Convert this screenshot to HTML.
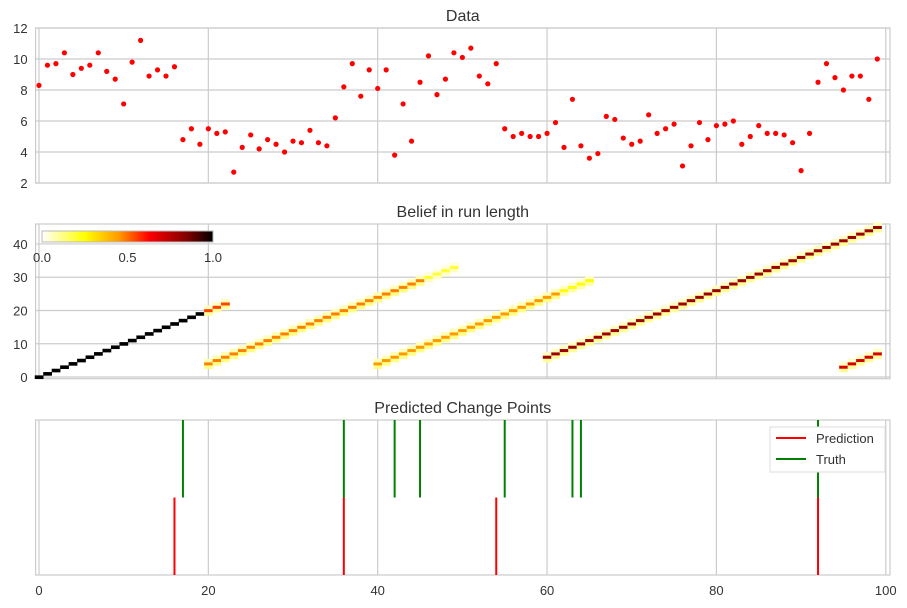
<!DOCTYPE html>
<html><head><meta charset="utf-8"><style>
html,body{margin:0;padding:0;background:#fff;}
svg{display:block;font-family:"Liberation Sans",sans-serif;}
</style></head><body>
<svg id="chart" width="907" height="608" viewBox="0 0 907 608">
<defs>
<linearGradient id="cbar" x1="0" x2="1" y1="0" y2="0">
<stop offset="0" stop-color="#ffffff"/><stop offset="0.25" stop-color="#ffff00"/><stop offset="0.45" stop-color="#ff9a00"/><stop offset="0.625" stop-color="#ff0000"/><stop offset="0.85" stop-color="#800000"/><stop offset="1" stop-color="#000000"/>
</linearGradient>
</defs>
</svg>
<script>
// ---- data ----
const dataX = Array.from({length:100},(_,i)=>i);
const dataValues = [8.3,9.6,9.7,10.4,9.0,9.4,9.6,10.4,9.2,8.7,7.1,9.8,11.2,8.9,9.3,8.9,9.5,4.8,5.5,4.5,
5.5,5.2,5.3,2.7,4.3,5.1,4.2,4.8,4.5,4.0,4.7,4.6,5.4,4.6,4.4,6.2,8.2,9.7,7.6,9.3,
8.1,9.3,3.8,7.1,4.7,8.5,10.2,7.7,8.7,10.4,10.1,10.7,8.9,8.4,9.7,5.5,5.0,5.2,5.0,5.0,
5.2,5.9,4.3,7.4,4.4,3.6,3.9,6.3,6.1,4.9,4.5,4.7,6.4,5.2,5.5,5.8,3.1,4.4,5.9,4.8,
5.7,5.8,6.0,4.5,5.0,5.7,5.2,5.2,5.1,4.6,2.8,5.2,8.5,9.7,8.8,8.0,8.9,8.9,7.4,10.0];
const runStarts = [0,0,16,16,36,36,54,92];
const runFrom = [0,20,20,46,40,62,60,95];
const runTo = [20,23,46,50,62,66,100,100];
const runPeak = [1.0,0.55,0.48,0.2,0.45,0.25,0.8,0.7];
const runFringe = [0.0,0.1,0.12,0.06,0.12,0.08,0.1,0.1];
const truthPoints = [17,36,42,45,55,63,64,92];
const predPoints = [16,36,54,92];
const xTicks = [0,20,40,60,80,100];
const yTicksTop = [2,4,6,8,10,12];
const yTicksMid = [0,10,20,30,40];
const cbarTicks = [0.0,0.5,1.0];

// ---- layout ----
const NS='http://www.w3.org/2000/svg';
const svg=document.getElementById('chart');
const L=35.6,R=890;
const xs=v=>L+(v+0.4)/(100.9)*(R-L);
function mk(tag,attrs,parent){const e=document.createElementNS(NS,tag);for(const k in attrs)e.setAttribute(k,attrs[k]);(parent||svg).appendChild(e);return e;}
const P=[{t:28,b:183,y0:2,y1:12,title:'Data',name:'data-panel'},
         {t:224,b:378.7,y0:-0.5,y1:46,title:'Belief in run length',name:'run-length-panel'},
         {t:420,b:575,y0:0,y1:2,title:'Predicted Change Points',name:'change-points-panel'}];
const ys=(p,v)=>p.b-(v-p.y0)/(p.y1-p.y0)*(p.b-p.t);
function cmap(v){
  const st=[[0,[255,255,255]],[0.25,[255,255,0]],[0.45,[255,154,0]],[0.625,[255,0,0]],[0.85,[128,0,0]],[1,[0,0,0]]];
  for(let i=1;i<st.length;i++){if(v<=st[i][0]){const a=st[i-1],b=st[i];const f=(v-a[0])/(b[0]-a[0]);
    return 'rgb('+a[1].map((c,j)=>Math.round(c+(b[1][j]-c)*f)).join(',')+')';}}
  return 'rgb(0,0,0)';
}
P.forEach((p,pi)=>{
  const g=mk('g',{});
  
  
  mk('rect',{x:L,y:p.t,width:R-L,height:p.b-p.t,fill:'#fff',stroke:'#cccccc','stroke-width':1.2},g);
  xTicks.forEach(v=>{const l=mk('line',{x1:xs(v),x2:xs(v),y1:p.t,y2:p.b,stroke:'#cccccc','stroke-width':1.2},g);
    });
  const yt=pi===0?yTicksTop:pi===1?yTicksMid:[];
  yt.forEach(v=>{const y=ys(p,v);
    const l=mk('line',{x1:L,x2:R,y1:y,y2:y,stroke:'#cccccc','stroke-width':1.2},g);
    
    const t=mk('text',{x:L-8,y:y+5,'text-anchor':'end','font-size':13,fill:'#333'},g);t.textContent=v;
    });
  const tt=mk('text',{x:(L+R)/2,y:p.t-7,'text-anchor':'middle','font-size':16,fill:'#333'},g);tt.textContent=p.title;
  
  p.g=g;
});
// data points
dataValues.forEach((v,i)=>{const c=mk('circle',{cx:xs(dataX[i]),cy:ys(P[0],v),r:2.6,fill:'#ff0000'},P[0].g);
  });
// heatmap
const hm=P[1];
const cw=xs(1)-xs(0), ch=ys(hm,0)-ys(hm,1);
runStarts.forEach((s,k)=>{
  for(let t=runFrom[k];t<runTo[k];t++){
    const r=t-s;
    const cells=[[r,runPeak[k]],[r-1,runFringe[k]],[r+1,runFringe[k]*0.6]];
    cells.forEach(([rr,val])=>{ if(val<=0.02||rr<0||rr>46)return;
      const c=mk('rect',{x:xs(t-0.5),y:ys(hm,rr+0.5),width:cw+0.3,height:ch+0.3,fill:cmap(val)},hm.g);
      });
  }
});
// colorbar
const cb=mk('g',{},hm.g);

mk('rect',{x:42,y:231,width:171,height:11,fill:'url(#cbar)',stroke:'#bbb','stroke-width':1},cb);
cbarTicks.forEach(v=>{const t=mk('text',{x:42+v*171,y:262,'text-anchor':'middle','font-size':13,fill:'#333'},cb);t.textContent=v.toFixed(1);
  });
// change points
const cp=P[2];
truthPoints.forEach(v=>{const l=mk('line',{x1:xs(v),x2:xs(v),y1:ys(cp,2),y2:ys(cp,1),stroke:'#008000','stroke-width':2},cp.g);
  });
predPoints.forEach(v=>{const l=mk('line',{x1:xs(v),x2:xs(v),y1:ys(cp,1),y2:ys(cp,0),stroke:'#ff0000','stroke-width':2},cp.g);
  });
// x tick labels
xTicks.forEach(v=>{const t=mk('text',{x:xs(v),y:595,'text-anchor':'middle','font-size':13,fill:'#333'});t.textContent=v;
  });
// legend
const lg=mk('g',{});

mk('rect',{x:770,y:427,width:115,height:45,fill:'#fff',stroke:'#dddddd','stroke-width':1},lg);
[['Prediction','#ff0000',438],['Truth','#008000',459]].forEach(([n,c,y])=>{
  const e=mk('g',{},lg);
  
  mk('line',{x1:776,x2:806,y1:y,y2:y,stroke:c,'stroke-width':2},e);
  const t=mk('text',{x:816,y:y+5,'font-size':13,fill:'#333'},e);t.textContent=n;
});
</script>
</body></html>
